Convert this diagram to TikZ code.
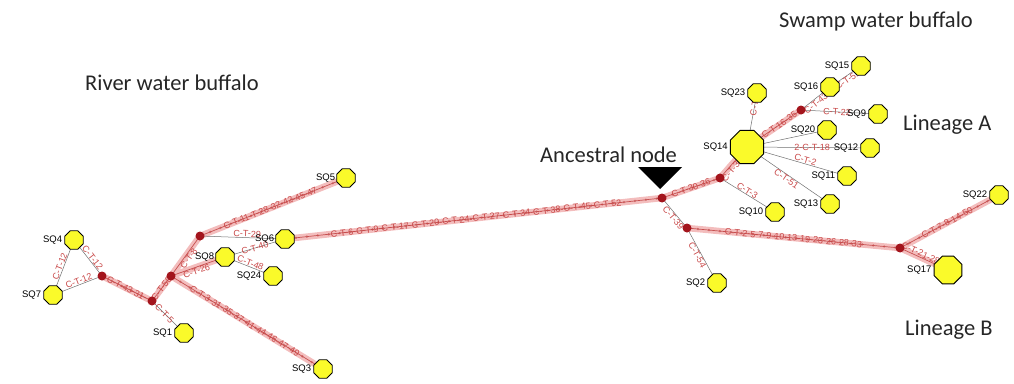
\documentclass[tikz,border=0pt]{standalone}
\usepackage{fontspec}
\setmainfont{Carlito}
\newfontfamily\labfont{Liberation Sans}
\usetikzlibrary{shapes.geometric,positioning}
\definecolor{hapyellow}{HTML}{FAFA2A}
\definecolor{meddark}{HTML}{A3141C}
\definecolor{glow}{HTML}{F3BDBD}
\definecolor{chaincore}{HTML}{C65050}
\definecolor{mutred}{HTML}{C84848}
\definecolor{thinline}{HTML}{707070}
\pgfdeclarelayer{bg}
\pgfsetlayers{bg,main}
\tikzset{
  hap/.style={regular polygon, regular polygon sides=8, draw=black, line width=0.9pt, fill=hapyellow, minimum size=20pt, inner sep=0pt},
  bighap/.style={hap, minimum size=36pt},
  midhap/.style={hap, minimum size=30pt},
  med/.style={circle, fill=meddark, minimum size=9pt, inner sep=0pt},
  sqlab/.style={font=\labfont\fontsize{9.5}{10}\selectfont, text=black, inner sep=1pt},
  title/.style={font=\fontsize{22.5}{26}\selectfont, text=black!85, inner sep=0pt, anchor=base west},
  chainglow/.style={draw=glow, line width=6.5pt, line cap=round},
  chaindots/.style={draw=chaincore, line width=0.7pt},
  chainmarks/.style={draw=chaincore!80, line width=2.6pt, line cap=round, dash pattern=on 0pt off 11pt},
  thin/.style={draw=thinline, line width=0.5pt},
  mut/.style={font=\labfont\fontsize{9}{9}\selectfont, text=mutred, inner sep=0.5pt, sloped},
}
\begin{document}
\begin{tikzpicture}[x=1pt,y=-1pt]
\useasboundingbox (0,0) rectangle (1014,383);
% titles
\node[title] at (85,90) {River water buffalo};
\node[title, anchor=base east] at (973,27) {Swamp water buffalo};
\node[title] at (903,130) {Lineage A};
\node[title] at (905,335) {Lineage B};
\node[title] (anclab) at (540,162) {Ancestral node};
\fill[black] (638,167) -- (682,167) -- (660,189) -- cycle;
% median vectors
\node[med] (v1) at (102,276) {};
\node[med] (v2) at (152,301) {};
\node[med] (v3) at (171,276) {};
\node[med] (m4) at (200,236) {};
\node[med] (anc) at (662,198) {};
\node[med] (m5) at (720,178) {};
\node[med] (m6) at (801,110) {};
\node[med] (m7) at (687,228) {};
\node[med] (m8) at (900,248) {};
% haplotypes
\node[hap] (sq4) at (74,240) {};
\node[hap] (sq7) at (53,295) {};
\node[hap] (sq1) at (184,333) {};
\node[hap] (sq6) at (285,239) {};
\node[hap] (sq8) at (225,257) {};
\node[hap] (sq24) at (273,276) {};
\node[hap] (sq5) at (346,178) {};
\node[hap] (sq3) at (323,369) {};
\node[bighap] (sq14) at (747,147) {};
\node[hap] (sq23) at (757,93) {};
\node[hap] (sq16) at (830,87) {};
\node[hap] (sq15) at (861,66) {};
\node[hap] (sq9) at (878,114) {};
\node[hap] (sq20) at (827,130) {};
\node[hap] (sq12) at (870,148) {};
\node[hap] (sq11) at (847,176) {};
\node[hap] (sq13) at (830,204) {};
\node[hap] (sq10) at (775,212) {};
\node[hap] (sq2) at (717,283) {};
\node[hap] (sq22) at (999,195) {};
\node[midhap] (sq17) at (948,270) {};
% haplotype labels
\node[sqlab, left=1pt of sq4] {SQ4};
\node[sqlab, left=1pt of sq7] {SQ7};
\node[sqlab, left=1pt of sq1] {SQ1};
\node[sqlab, left=0pt of sq6] {SQ6};
\node[sqlab, left=0pt of sq8] {SQ8};
\node[sqlab, left=1pt of sq24] {SQ24};
\node[sqlab, left=0pt of sq5] {SQ5};
\node[sqlab, left=1pt of sq3] {SQ3};
\node[sqlab, left=1pt of sq14] {SQ14};
\node[sqlab, left=1pt of sq23] {SQ23};
\node[sqlab, left=1pt of sq16] {SQ16};
\node[sqlab, left=1pt of sq15] {SQ15};
\node[sqlab, left=1pt of sq9] {SQ9};
\node[sqlab, left=1pt of sq20] {SQ20};
\node[sqlab, left=1pt of sq12] {SQ12};
\node[sqlab, left=1pt of sq11] {SQ11};
\node[sqlab, left=1pt of sq13] {SQ13};
\node[sqlab, left=1pt of sq10] {SQ10};
\node[sqlab, left=1pt of sq2] {SQ2};
\node[sqlab, left=1pt of sq22] {SQ22};
\node[sqlab, left=1pt of sq17] {SQ17};
% connectors
\begin{pgfonlayer}{bg}
% glowing multi-step chains
\foreach \a/\b in {v1/v2, v2/v3, v3/sq3, v3/m4, v3/sq8, m4/sq5, sq6/anc, anc/m5, m5/sq14, m7/m8, m8/sq22, m8/sq17, sq14/m6}
  {\draw[chainglow] (\a.center) -- (\b.center);}
\foreach \a/\b in {v1/v2, v3/sq3, m4/sq5, sq6/anc, anc/m5, m7/m8, m8/sq22}
  {\draw[chainmarks] (\a.center) -- (\b.center);}
\foreach \a/\b in {v1/v2, v2/v3, v3/sq3, v3/m4, v3/sq8, m4/sq5, sq6/anc, anc/m5, m5/sq14, m7/m8, m8/sq22, m8/sq17, sq14/m6}
  {\draw[chaindots] (\a.center) -- (\b.center);}
% single-step links
\foreach \a/\b in {sq4/sq7, sq4/v1, sq7/v1, v2/sq1, m4/sq6, sq8/sq6, sq8/sq24, m5/sq10, anc/m7, m7/sq2, sq14/sq23, m6/sq16, sq16/sq15, m6/sq9, sq14/sq20, sq14/sq12, sq14/sq11, sq14/sq13}
  {\draw[thin] (\a.center) -- (\b.center);}
% mutation labels
\path (sq4) -- (sq7) node[mut, midway, above] {C-T-12};
\path (sq4) -- (v1) node[mut, midway, above] {C-T-12};
\path (sq7) -- (v1) node[mut, midway, above] {C-T-12};
\path (v1) -- (v2) node[mut, midway] {C-T-43-31-};
\path (v2) -- (v3) node[mut, midway] {C-T-50};
\path (v2) -- (sq1) node[mut, pos=0.42] {C-T-5};
\path (v3) -- (sq3) node[mut, midway] {C-T-3-31-35-37-41-44-46-47-49};
\path (v3) -- (m4) node[mut, midway, below] {C-T-8};
\path (v3) -- (sq8) node[mut, midway, below] {C-T-26};
\path (m4) -- (sq5) node[mut, midway] {C-T-11-T-28-32-42-45-47};
\path (m4) -- (sq6) node[mut, pos=0.6, above] {C-T-29};
\path (sq8) -- (sq6) node[mut, midway] {C-T-40};
\path (sq8) -- (sq24) node[mut, midway, above] {C-T-48};
\path (sq6) -- (anc) node[mut, midway] {C-T-6-C-T-9-C-T-17-C-T-20-C-T-24-C-T-27-C-T-34-C-T-38-C-T-45-C-T-52};
\path (anc) -- (m5) node[mut, midway] {C-T-30-36};
\path (m5) -- (sq14) node[mut, midway, below] {C-T-30};
\path (m5) -- (sq10) node[mut, midway, above] {C-T-3};
\path (anc) -- (m7) node[mut, pos=0.6, below] {C-T-39};
\path (m7) -- (sq2) node[mut, midway, below] {C-T-54};
\path (m7) -- (m8) node[mut, midway] {C-T-2-5-7-9-10-13-19-23-26-28-33};
\path (m8) -- (sq22) node[mut, midway] {C-T-7-8-14-50};
\path (m8) -- (sq17) node[mut, midway, above] {C-T-21-28};
\path (sq14) -- (sq23) node[mut, midway, right] {C-T-15};
\path (sq14) -- (m6) node[mut, midway] {C-T-16-35};
\path (m6) -- (sq16) node[mut, midway, below] {C-T-43};
\path (sq16) -- (sq15) node[mut, midway, below] {C-T-51};
\path (m6) -- (sq9) node[mut, midway] {C-T-22};
\path (sq14) -- (sq12) node[mut, pos=0.5] {2-C-T-18};
\path (sq14) -- (sq11) node[mut, pos=0.55, above] {C-T-2};
\path (sq14) -- (sq13) node[mut, pos=0.45, below] {C-T-51};
\end{pgfonlayer}
\end{tikzpicture}
\end{document}
